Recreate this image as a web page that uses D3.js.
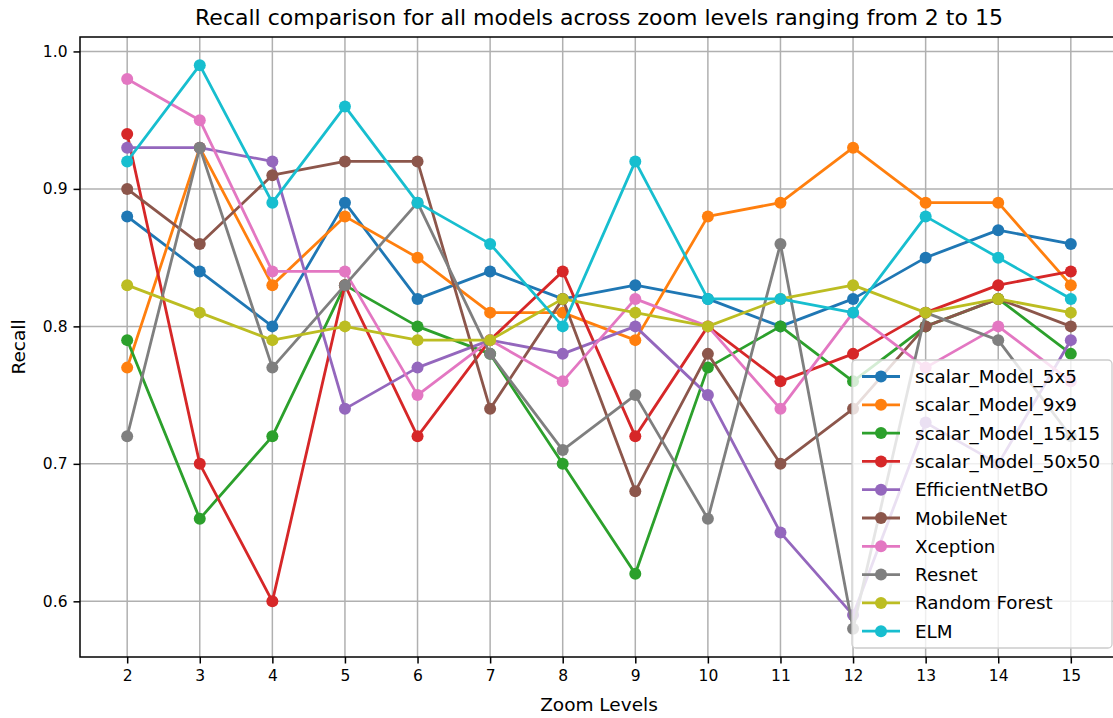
<!DOCTYPE html>
<html>
<head>
<meta charset="utf-8">
<script src="https://cdn.jsdelivr.net/npm/d3@7"></script>
<style>
  html, body { margin: 0; padding: 0; background: #fff; }
  svg text { font-family: "DejaVu Sans", sans-serif; fill: #000; }
</style>
</head>
<body>
<svg id="chart" width="1113" height="718"></svg>
<script>
const zoomLevels = [2, 3, 4, 5, 6, 7, 8, 9, 10, 11, 12, 13, 14, 15];
const modelNames = ["scalar_Model_5x5", "scalar_Model_9x9", "scalar_Model_15x15", "scalar_Model_50x50",
  "EfficientNetBO", "MobileNet", "Xception", "Resnet", "Random Forest", "ELM"];
const scalarModel5x5   = [0.88, 0.84, 0.80, 0.89, 0.82, 0.84, 0.82, 0.83, 0.82, 0.80, 0.82, 0.85, 0.87, 0.86];
const scalarModel9x9   = [0.77, 0.93, 0.83, 0.88, 0.85, 0.81, 0.81, 0.79, 0.88, 0.89, 0.93, 0.89, 0.89, 0.83];
const scalarModel15x15 = [0.79, 0.66, 0.72, 0.83, 0.80, 0.78, 0.70, 0.62, 0.77, 0.80, 0.76, 0.80, 0.82, 0.78];
const scalarModel50x50 = [0.94, 0.70, 0.60, 0.83, 0.72, 0.79, 0.84, 0.72, 0.80, 0.76, 0.78, 0.81, 0.83, 0.84];
const efficientNetB0   = [0.93, 0.93, 0.92, 0.74, 0.77, 0.79, 0.78, 0.80, 0.75, 0.65, 0.59, 0.73, 0.70, 0.79];
const mobileNet        = [0.90, 0.86, 0.91, 0.92, 0.92, 0.74, 0.82, 0.68, 0.78, 0.70, 0.74, 0.80, 0.82, 0.80];
const xception         = [0.98, 0.95, 0.84, 0.84, 0.75, 0.79, 0.76, 0.82, 0.80, 0.74, 0.81, 0.77, 0.80, 0.76];
const resnet           = [0.72, 0.93, 0.77, 0.83, 0.89, 0.78, 0.71, 0.75, 0.66, 0.86, 0.58, 0.81, 0.79, 0.72];
const randomForest     = [0.83, 0.81, 0.79, 0.80, 0.79, 0.79, 0.82, 0.81, 0.80, 0.82, 0.83, 0.81, 0.82, 0.81];
const elm              = [0.92, 0.99, 0.89, 0.96, 0.89, 0.86, 0.80, 0.92, 0.82, 0.82, 0.81, 0.88, 0.85, 0.82];
const yTicks = [0.6, 0.7, 0.8, 0.9, 1.0];
const titleText = "Recall comparison for all models across zoom levels ranging from 2 to 15";
const xLabel = "Zoom Levels";
const yLabel = "Recall";

const seriesValues = [scalarModel5x5, scalarModel9x9, scalarModel15x15, scalarModel50x50,
  efficientNetB0, mobileNet, xception, resnet, randomForest, elm];
const colors = ["#1f77b4", "#ff7f0e", "#2ca02c", "#d62728", "#9467bd", "#8c564b", "#e377c2", "#7f7f7f", "#bcbd22", "#17becf"];
const series = modelNames.map((n, i) => ({ name: n, color: colors[i], values: seriesValues[i] }));

const svg = d3.select("#chart");
const L = 80, R = 1118, T = 37, B = 657;

const x = d3.scaleLinear().domain([1.35, 15.65]).range([L, R]);
const y = d3.scaleLinear().domain([0.5595, 1.0105]).range([B, T]);

// grid
const grid = svg.append("g");
grid.selectAll("line.vx").data(zoomLevels).join("line")
  .attr("x1", d => x(d)).attr("x2", d => x(d)).attr("y1", T).attr("y2", B)
  .attr("stroke", "#b0b0b0").attr("stroke-width", 1.5);
grid.selectAll("line.hy").data(yTicks).join("line")
  .attr("x1", L).attr("x2", R).attr("y1", d => y(d)).attr("y2", d => y(d))
  .attr("stroke", "#b0b0b0").attr("stroke-width", 1.5);

// series
const lineGen = d3.line().x((d, i) => x(zoomLevels[i])).y(d => y(d));
const plot = svg.append("g");
series.forEach(s => {
  const g = plot.append("g");
  g.append("path").datum(s.values).attr("d", lineGen)
    .attr("fill", "none").attr("stroke", s.color).attr("stroke-width", 2.8)
    .attr("stroke-linejoin", "round").attr("stroke-linecap", "square");
  g.selectAll("circle").data(s.values).join("circle")
    .attr("cx", (d, i) => x(zoomLevels[i])).attr("cy", d => y(d)).attr("r", 6)
    .attr("fill", s.color);
});

// axes
const xAxis = d3.axisBottom(x).tickValues(zoomLevels).tickFormat(d3.format("d")).tickSizeOuter(0).tickSize(6.5).tickPadding(6);
const yAxis = d3.axisLeft(y).tickValues(yTicks).tickFormat(d3.format(".1f")).tickSizeOuter(0).tickSize(6.5).tickPadding(6);
const gx = svg.append("g").attr("transform", `translate(0,${B})`).call(xAxis);
const gy = svg.append("g").attr("transform", `translate(${L},0)`).call(yAxis);
[gx, gy].forEach(g => {
  g.select(".domain").remove();
  g.selectAll(".tick line").attr("stroke", "#000").attr("stroke-width", 1.5);
  g.selectAll(".tick text").attr("font-size", 15.5).attr("font-family", "DejaVu Sans").attr("fill", "#000");
});
// spines
svg.append("rect").attr("x", L).attr("y", T).attr("width", R - L).attr("height", B - T)
  .attr("fill", "none").attr("stroke", "#000").attr("stroke-width", 1.5);

// titles
svg.append("text").attr("x", (L + R) / 2).attr("y", 25).attr("text-anchor", "middle")
  .attr("font-size", 22).text(titleText);
svg.append("text").attr("x", (L + R) / 2).attr("y", 711).attr("text-anchor", "middle")
  .attr("font-size", 18.5).text(xLabel);
svg.append("text").attr("transform", `translate(25,${(T + B) / 2}) rotate(-90)`).attr("text-anchor", "middle")
  .attr("font-size", 18.5).text(yLabel);

// legend
const lg = svg.append("g");
const lx = 852, ly = 360, lw = 260, lh = 288;
lg.append("rect").attr("x", lx).attr("y", ly).attr("width", lw).attr("height", lh)
  .attr("rx", 4).attr("fill", "#fff").attr("fill-opacity", 0.8)
  .attr("stroke", "#cccccc").attr("stroke-width", 1.3);
series.forEach((s, i) => {
  const yy = ly + 16.5 + i * 28.3;
  lg.append("line").attr("x1", lx + 10).attr("x2", lx + 48).attr("y1", yy).attr("y2", yy)
    .attr("stroke", s.color).attr("stroke-width", 2.8);
  lg.append("circle").attr("cx", lx + 29).attr("cy", yy).attr("r", 6).attr("fill", s.color);
  lg.append("text").attr("x", lx + 63).attr("y", yy).attr("dy", "0.36em")
    .attr("font-size", 18.3).text(s.name);
});
</script>
</body>
</html>
